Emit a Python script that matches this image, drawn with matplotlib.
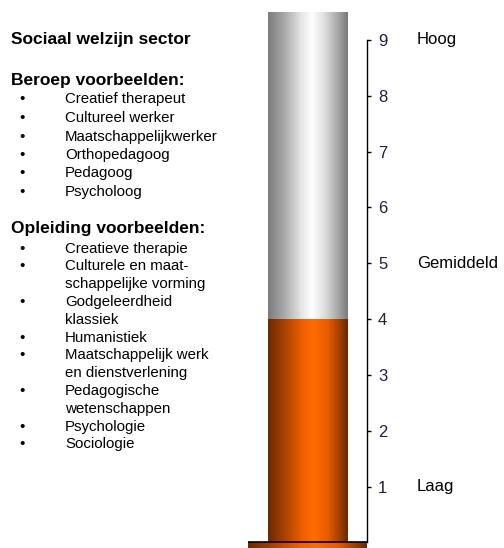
import numpy as np
import matplotlib
matplotlib.use('Agg')
import matplotlib.pyplot as plt
from matplotlib.colors import LinearSegmentedColormap
from matplotlib.transforms import blended_transform_factory

plt.rcParams['font.family'] = ['Liberation Sans', 'DejaVu Sans']

# data
title = 'Sociaal welzijn sector'
beroep_header = 'Beroep voorbeelden:'
beroepen = ['Creatief therapeut', 'Cultureel werker', 'Maatschappelijkwerker',
            'Orthopedagoog', 'Pedagoog', 'Psycholoog']
opleiding_header = 'Opleiding voorbeelden:'
opleidingen = [['Creatieve therapie'],
               ['Culturele en maat-', 'schappelijke vorming'],
               ['Godgeleerdheid', 'klassiek'],
               ['Humanistiek'],
               ['Maatschappelijk werk', 'en dienstverlening'],
               ['Pedagogische', 'wetenschappen'],
               ['Psychologie'],
               ['Sociologie']]
score = 4
tube_max = 9.5
ticks = [1, 2, 3, 4, 5, 6, 7, 8, 9]
level_values = [9, 5, 1]
level_names = ['Hoog', 'Gemiddeld', 'Laag']

W, H = 504, 548
fig = plt.figure(figsize=(W / 100, H / 100), dpi=100)

# thermometer axes
ax = fig.add_axes([248 / W, 0, (367 - 248) / W, (H - 12) / H])

gray = LinearSegmentedColormap.from_list('gray_tube', [
    (0.0, '#7c7c7c'), (0.2, '#a8a8a8'), (0.42, '#e6e6e6'),
    (0.55, '#ffffff'), (0.7, '#e0e0e0'), (0.88, '#a6a6a6'), (1.0, '#7a7a7a')])
orange = LinearSegmentedColormap.from_list('orange_tube', [
    (0.0, '#6a2a00'), (0.2, '#a84000'), (0.45, '#f46200'),
    (0.58, '#ff6a00'), (0.75, '#e85c00'), (0.9, '#a03e00'), (1.0, '#6a2800')])
grad = np.linspace(0, 1, 256).reshape(1, -1)

def gradient_bar(height, cmap):
    bar = ax.bar(0, height, width=1.0, color='none', edgecolor='none')[0]
    x0 = bar.get_x()
    im = ax.imshow(grad, extent=[x0, x0 + bar.get_width(), 0, height],
                   aspect='auto', cmap=cmap, interpolation='bilinear', zorder=1)
    im.set_clip_path(bar)

gradient_bar(tube_max, gray)
gradient_bar(score, orange)

# base plate
ax.imshow(grad, extent=[-0.75, 0.75, -0.1, 0], aspect='auto', cmap=orange,
          interpolation='bilinear', zorder=1)
ax.axhline(0, color='black', lw=1.2, zorder=3)

ax.set_xlim(-0.75, 0.75)
ax.set_ylim(-0.1, tube_max)
ax.set_xticks([])
ax.yaxis.tick_right()
ax.set_yticks(ticks)
ax.tick_params(axis='y', direction='out', length=3, width=1, pad=5,
               labelsize=12, labelcolor='#20203a')
for s in ['left', 'top', 'bottom']:
    ax.spines[s].set_visible(False)
ax.spines['right'].set_bounds(0, 9)
ax.spines['right'].set_linewidth(1)

tr = blended_transform_factory(fig.transFigure, ax.transData)
for v, name in zip(level_values, level_names):
    ax.text(417 / W, v, name, transform=tr, va='center', ha='left', fontsize=12)

# left text block
def put(x, y, s, **kw):
    fig.text(x / W, 1 - y / H, s, va='baseline', ha='left', **kw)

put(11, 44, title, fontsize=12.5, fontweight='bold')
put(11, 85, beroep_header, fontsize=12.5, fontweight='bold')
y = 103.5
for item in beroepen:
    put(19, y, '\u2022', fontsize=10.8)
    put(65, y, item, fontsize=10.8)
    y += 18.5

put(11, 233, opleiding_header, fontsize=12.5, fontweight='bold')
y = 252.5
for lines in opleidingen:
    put(19, y, '\u2022', fontsize=10.8)
    for line in lines:
        put(65, y, line, fontsize=10.8)
        y += 17.8

fig.savefig('out.png', dpi=100)
